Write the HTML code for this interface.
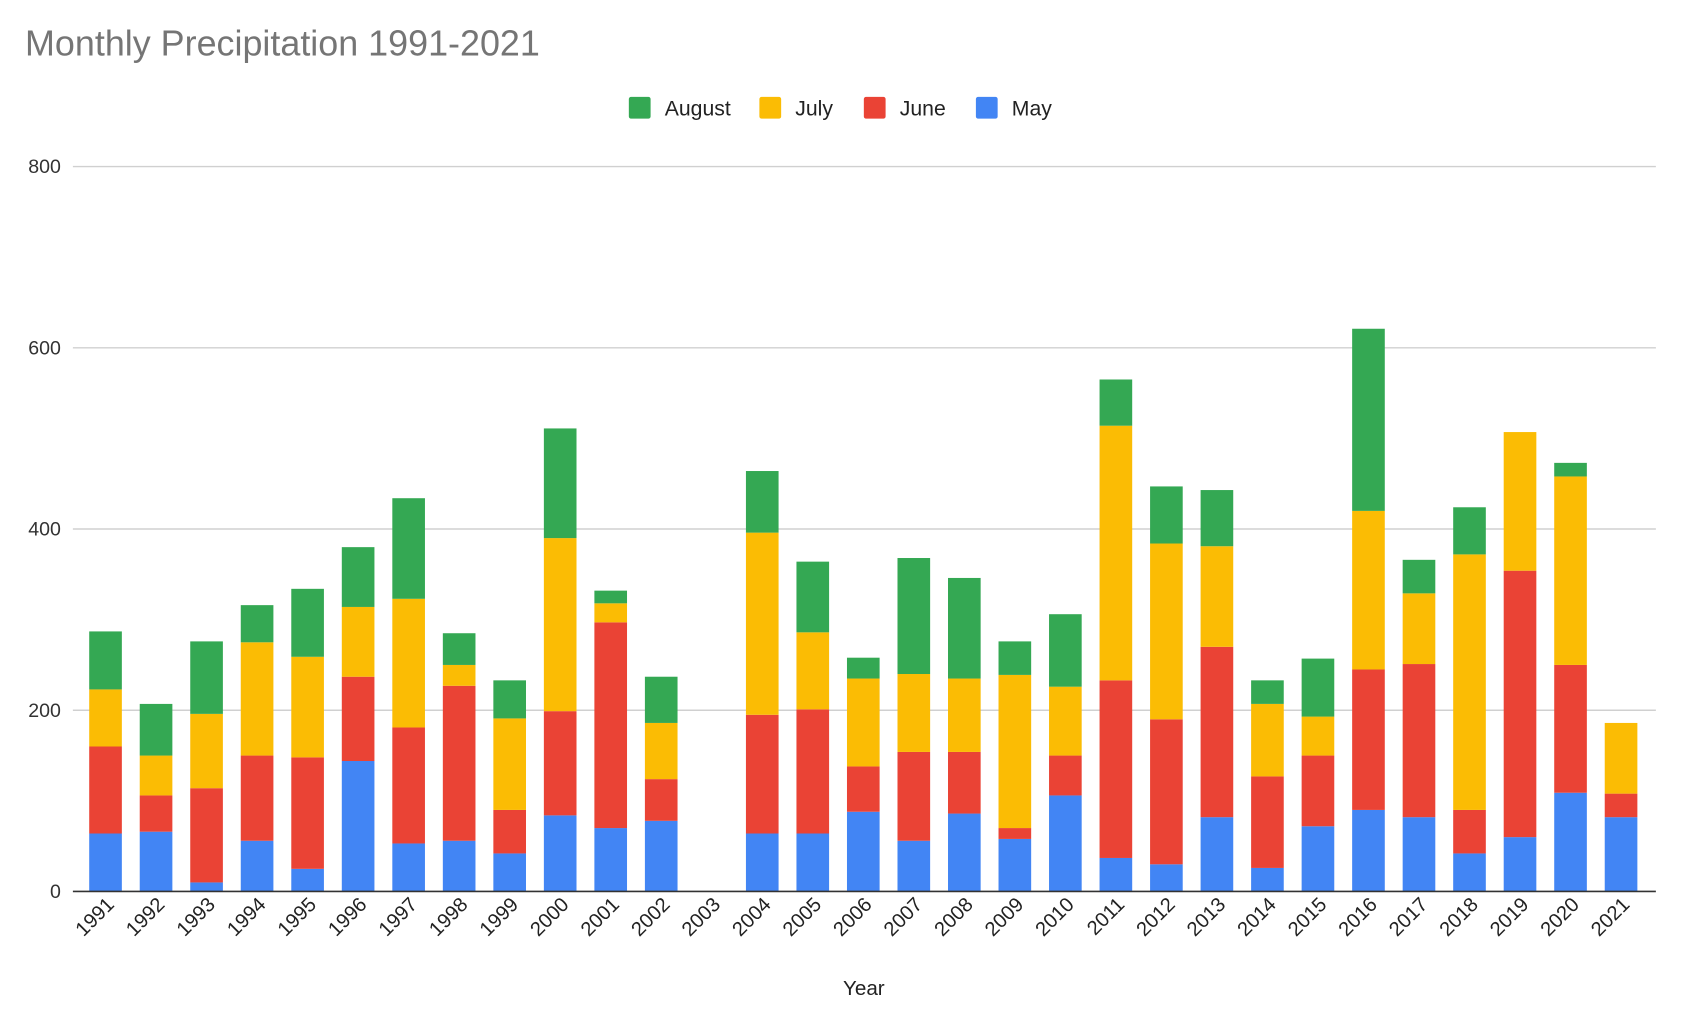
<!DOCTYPE html>
<html><head><meta charset="utf-8"><style>
html,body{margin:0;padding:0;background:#fff;}
svg{display:block;font-family:"Liberation Sans",Arial,sans-serif;}
</style></head><body>
<svg id="chart" width="1707" height="1033" viewBox="0 0 1569 949" preserveAspectRatio="none" xmlns="http://www.w3.org/2000/svg">
<text x="23" y="51" font-size="33" fill="#757575">Monthly Precipitation 1991-2021</text>
<g id="legend"></g>
<g id="grid"></g>
<g id="bars"></g>
<g id="xlabels"></g>
<line x1="67" x2="1522" y1="819" y2="819" stroke="#333" stroke-width="1.5"/>
<text x="794" y="914" font-size="19" fill="#222" text-anchor="middle">Year</text>
</svg>
<script>
const years = ["1991","1992","1993","1994","1995","1996","1997","1998","1999","2000","2001","2002","2003","2004","2005","2006","2007","2008","2009","2010","2011","2012","2013","2014","2015","2016","2017","2018","2019","2020","2021"];
const may    = [64,66,10,56,25,144,53,56,42,84,70,78,0,64,64,88,56,86,58,106,37,30,82,26,72,90,82,42,60,109,82];
const june   = [96,40,104,94,123,93,128,171,48,115,227,46,0,131,137,50,98,68,12,44,196,160,188,101,78,155,169,48,294,141,26];
const july   = [63,44,82,125,111,77,142,23,101,191,21,62,0,201,85,97,86,81,169,76,281,194,111,80,43,175,78,282,153,208,78];
const august = [64,57,80,41,75,66,111,35,42,121,14,51,0,68,78,23,128,111,37,80,51,63,62,26,64,201,37,52,0,15,0];
const yTicks = [0,200,400,600,800];
const seriesNames = ["August","July","June","May"];
const NS="http://www.w3.org/2000/svg";
const colors={May:"#4285f4",June:"#ea4335",July:"#fbbc04",August:"#34a853"};
const x0=67,x1=1522,yBase=819,yTop=153,vMax=800;
const y = v => yBase - v/vMax*(yBase-yTop);
const step=(1490-97)/(years.length-1);
const xc = i => 97 + i*step;
const bw=30;
function mk(tag,attrs,parent){const e=document.createElementNS(NS,tag);for(const k in attrs)e.setAttribute(k,attrs[k]);parent.appendChild(e);return e;}
const grid=document.getElementById('grid');
yTicks.forEach(t=>{
  if(t>0){const l=mk('line',{x1:x0,x2:x1,y1:y(t),y2:y(t),stroke:'#d0d0d0','stroke-width':1.3},grid);
  
  }
  const tx=mk('text',{x:56,y:y(t)+6,'font-size':18,fill:'#333','text-anchor':'end'},grid);
  tx.textContent=t;
  
  
});
const bars=document.getElementById('bars');
const series={May:may,June:june,July:july,August:august};
years.forEach((yr,i)=>{
  let cum=0;
  ["May","June","July","August"].forEach(s=>{
    const v=series[s][i];
    if(v>0){
      const r=mk('rect',{x:xc(i)-bw/2,y:y(cum+v),width:bw,height:y(cum)-y(cum+v),fill:colors[s]},bars);
      
      
    }
    cum+=v;
  });
});
const xl=document.getElementById('xlabels');
years.forEach((yr,i)=>{
  const t=mk('text',{x:xc(i)+9,y:832,'font-size':18.5,fill:'#222','text-anchor':'end',transform:`rotate(-45 ${xc(i)+9} 832)`},xl);
  t.textContent=yr;
  
  
});
const lg=document.getElementById('legend');
const lx=[578,698,794,897];
seriesNames.forEach((s,i)=>{
  const r=mk('rect',{x:lx[i],y:89,width:20,height:20,rx:2,fill:colors[s]},lg);
  
  
  const t=mk('text',{x:lx[i]+33,y:106,'font-size':19.5,fill:'#222'},lg);
  t.textContent=s;
  
  
});
</script>
</body></html>
